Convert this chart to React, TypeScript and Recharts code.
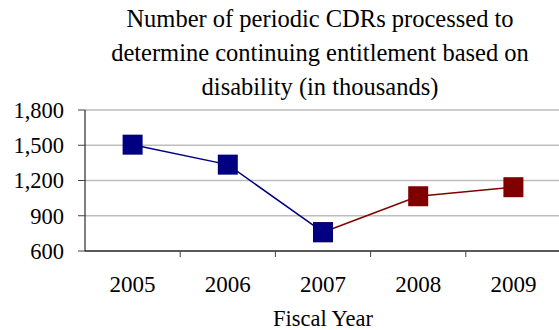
import React from 'react'
import { LineChart, Line, XAxis, YAxis, CartesianGrid } from 'recharts'

const years = ['2005', '2006', '2007', '2008', '2009']
// periodic CDRs processed, in thousands
const actual = [1505, 1335, 760, null, null]
const projected = [null, null, 760, 1066, 1143]
const yTicks = [600, 900, 1200, 1500, 1800]

const titleLines = [
  'Number of periodic CDRs processed to',
  'determine continuing entitlement based on',
  'disability (in thousands)',
]

const FONT = "'Liberation Serif', 'Times New Roman', serif"
const BLUE = '#000080'
const RED = '#800000'

const data = years.map((year, i) => ({ year, actual: actual[i], projected: projected[i] }))

const squareDot = (color: string) => (props: any) => {
  const { cx, cy, index } = props
  if (cx == null || cy == null) return <g key={`e-${index}`} />
  return <rect key={`d-${index}`} x={cx - 10} y={cy - 10} width={20} height={20} fill={color} />
}

// year label centred in its band, tick mark on the band's left edge
const YearTick = (props: any) => {
  const { x, y, payload } = props
  const off = payload.offset || 0
  return (
    <g>
      {payload.index > 0 && (
        <line x1={x - off} x2={x - off} y1={y} y2={y + 6} stroke="#404040" strokeWidth={1} />
      )}
      <text x={x} y={y + 41} textAnchor="middle" fontFamily={FONT} fontSize={23} fill="#000">
        {payload.value}
      </text>
    </g>
  )
}

export default function App() {
  return (
    <div style={{ position: 'fixed', left: 0, top: 0, width: 559, height: 330, overflow: 'hidden', background: '#fff' }}>
      <svg width={559} height={100} style={{ position: 'absolute', left: 0, top: 0 }}>
        {titleLines.map((t, i) => (
          <text key={t} x={320} y={27 + i * 34} textAnchor="middle" fontFamily={FONT} fontSize={24.5} fill="#000">
            {t}
          </text>
        ))}
      </svg>
      <LineChart width={575} height={330} data={data} margin={{ top: 110, right: 14, left: 0, bottom: 0 }}>
        <CartesianGrid horizontal vertical={false} stroke="#bdbdbd" strokeWidth={1.5} />
        <XAxis
          dataKey="year"
          scale="band"
          height={79}
          axisLine={{ stroke: '#5a5a5a', strokeWidth: 2 }}
          tickLine={false}
          tickSize={0}
          tickMargin={0}
          interval={0}
          tick={<YearTick />}
          label={{ value: 'Fiscal Year', position: 'insideBottom', offset: 4, fill: '#000', fontFamily: FONT, fontSize: 22.5 }}
        />
        <YAxis
          domain={[600, 1800]}
          ticks={yTicks}
          width={85}
          axisLine={{ stroke: '#000' }}
          tickLine={{ stroke: '#404040' }}
          tickSize={7}
          tickMargin={14}
          tickFormatter={(v: number) => v.toLocaleString('en-US')}
          tick={{ fill: '#000', fontFamily: FONT, fontSize: 22.5 }}
        />
        <Line
          dataKey="projected"
          stroke={RED}
          strokeWidth={1.5}
          dot={squareDot(RED)}
          activeDot={false}
          isAnimationActive={false}
        />
        <Line
          dataKey="actual"
          stroke={BLUE}
          strokeWidth={1.5}
          dot={squareDot(BLUE)}
          activeDot={false}
          isAnimationActive={false}
        />
      </LineChart>
    </div>
  )
}
